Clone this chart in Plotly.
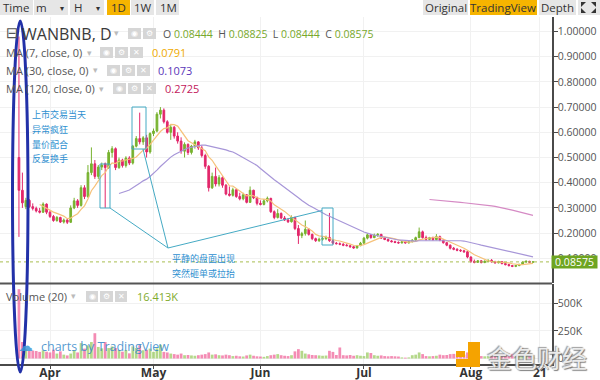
import pandas as pd
import plotly.graph_objects as go

# ---------------- data ----------------
start_date = "2018-03-23"
opens = [0.50, 0.37, 0.305, 0.33, 0.305, 0.298, 0.288, 0.283, 0.315, 0.283,
         0.266, 0.25, 0.262, 0.244, 0.252, 0.243, 0.30, 0.328, 0.31, 0.38,
         0.345, 0.44, 0.475, 0.425, 0.462, 0.475, 0.46, 0.52, 0.535, 0.46,
         0.49, 0.468, 0.498, 0.478, 0.545, 0.575, 0.562, 0.578, 0.522, 0.595,
         0.605, 0.672, 0.688, 0.642, 0.60, 0.62, 0.585, 0.565, 0.525, 0.552,
         0.52, 0.545, 0.562, 0.538, 0.508, 0.465, 0.38, 0.425, 0.395, 0.42,
         0.39, 0.355, 0.35, 0.372, 0.345, 0.336, 0.352, 0.322, 0.37, 0.34,
         0.318, 0.314, 0.328, 0.338, 0.285, 0.262, 0.278, 0.26, 0.252, 0.245,
         0.262, 0.218, 0.19, 0.198, 0.215, 0.195, 0.178, 0.17, 0.176, 0.178,
         0.183, 0.17, 0.16, 0.158, 0.156, 0.152, 0.15, 0.146, 0.141, 0.15,
         0.16, 0.18, 0.193, 0.182, 0.192, 0.195, 0.18, 0.175, 0.169, 0.166,
         0.163, 0.161, 0.166, 0.161, 0.166, 0.172, 0.182, 0.205, 0.182, 0.175,
         0.182, 0.174, 0.186, 0.172, 0.162, 0.152, 0.14, 0.136, 0.132, 0.13,
         0.126, 0.105, 0.088, 0.084, 0.09, 0.083, 0.088, 0.092, 0.086, 0.082,
         0.087, 0.079, 0.075, 0.071, 0.068, 0.071, 0.076, 0.085, 0.088, 0.08444]
highs = [0.98, 0.44, 0.34, 0.335, 0.318, 0.305, 0.30, 0.322, 0.318, 0.29,
         0.272, 0.268, 0.265, 0.258, 0.256, 0.31, 0.34, 0.335, 0.39, 0.39,
         0.47, 0.54, 0.49, 0.47, 0.48, 0.48, 0.53, 0.545, 0.54, 0.50,
         0.495, 0.505, 0.505, 0.55, 0.585, 0.678, 0.585, 0.59, 0.60, 0.615,
         0.68, 0.70, 0.695, 0.648, 0.63, 0.625, 0.60, 0.58, 0.56, 0.556,
         0.55, 0.57, 0.565, 0.548, 0.515, 0.47, 0.44, 0.46, 0.43, 0.425,
         0.395, 0.385, 0.38, 0.375, 0.36, 0.36, 0.355, 0.385, 0.372, 0.345,
         0.33, 0.335, 0.345, 0.34, 0.29, 0.295, 0.282, 0.268, 0.26, 0.27,
         0.265, 0.232, 0.205, 0.25, 0.22, 0.198, 0.182, 0.182, 0.185, 0.19,
         0.28, 0.175, 0.165, 0.163, 0.16, 0.158, 0.153, 0.15, 0.153, 0.165,
         0.185, 0.20, 0.196, 0.198, 0.20, 0.197, 0.184, 0.178, 0.173, 0.17,
         0.167, 0.168, 0.168, 0.169, 0.176, 0.186, 0.222, 0.21, 0.19, 0.185,
         0.186, 0.196, 0.19, 0.175, 0.165, 0.155, 0.145, 0.14, 0.136, 0.134,
         0.13, 0.108, 0.095, 0.093, 0.092, 0.092, 0.095, 0.097, 0.09, 0.09,
         0.088, 0.082, 0.078, 0.074, 0.073, 0.078, 0.088, 0.092, 0.09, 0.08825]
lows = [0.185, 0.30, 0.295, 0.30, 0.29, 0.282, 0.278, 0.28, 0.275, 0.26,
        0.245, 0.245, 0.24, 0.238, 0.236, 0.24, 0.295, 0.30, 0.305, 0.335,
        0.34, 0.43, 0.415, 0.415, 0.45, 0.30, 0.455, 0.50, 0.45, 0.455,
        0.46, 0.46, 0.47, 0.472, 0.54, 0.552, 0.55, 0.50, 0.515, 0.585,
        0.60, 0.655, 0.635, 0.595, 0.57, 0.575, 0.555, 0.515, 0.50, 0.51,
        0.512, 0.535, 0.53, 0.50, 0.455, 0.365, 0.375, 0.385, 0.385, 0.38,
        0.35, 0.345, 0.345, 0.34, 0.33, 0.33, 0.318, 0.32, 0.335, 0.31,
        0.31, 0.31, 0.322, 0.28, 0.255, 0.258, 0.255, 0.248, 0.24, 0.242,
        0.212, 0.157, 0.18, 0.19, 0.19, 0.172, 0.165, 0.165, 0.17, 0.172,
        0.165, 0.155, 0.155, 0.152, 0.148, 0.148, 0.142, 0.138, 0.139, 0.148,
        0.158, 0.175, 0.178, 0.18, 0.185, 0.178, 0.172, 0.166, 0.163, 0.16,
        0.158, 0.159, 0.158, 0.159, 0.163, 0.17, 0.18, 0.178, 0.17, 0.172,
        0.17, 0.172, 0.168, 0.158, 0.148, 0.135, 0.132, 0.128, 0.125, 0.122,
        0.10, 0.082, 0.08, 0.082, 0.08, 0.081, 0.085, 0.083, 0.08, 0.08,
        0.076, 0.072, 0.068, 0.065, 0.065, 0.069, 0.074, 0.082, 0.082, 0.08444]
closes = [0.37, 0.32, 0.33, 0.305, 0.298, 0.288, 0.283, 0.315, 0.283, 0.266,
          0.25, 0.262, 0.244, 0.252, 0.243, 0.30, 0.328, 0.31, 0.38, 0.345,
          0.44, 0.475, 0.425, 0.462, 0.47, 0.46, 0.52, 0.535, 0.46, 0.49,
          0.468, 0.498, 0.478, 0.545, 0.575, 0.562, 0.578, 0.522, 0.595, 0.605,
          0.672, 0.688, 0.642, 0.60, 0.62, 0.585, 0.565, 0.525, 0.552, 0.52,
          0.545, 0.562, 0.538, 0.508, 0.465, 0.38, 0.425, 0.395, 0.42, 0.39,
          0.355, 0.35, 0.372, 0.345, 0.336, 0.352, 0.322, 0.37, 0.34, 0.318,
          0.314, 0.328, 0.338, 0.285, 0.262, 0.278, 0.26, 0.252, 0.245, 0.262,
          0.218, 0.19, 0.198, 0.215, 0.195, 0.178, 0.17, 0.176, 0.178, 0.183,
          0.17, 0.16, 0.158, 0.156, 0.152, 0.15, 0.146, 0.141, 0.15, 0.16,
          0.18, 0.193, 0.182, 0.192, 0.195, 0.18, 0.175, 0.169, 0.166, 0.163,
          0.161, 0.166, 0.161, 0.166, 0.172, 0.182, 0.205, 0.182, 0.175, 0.182,
          0.174, 0.186, 0.172, 0.162, 0.152, 0.14, 0.136, 0.132, 0.13, 0.126,
          0.105, 0.088, 0.084, 0.09, 0.083, 0.088, 0.092, 0.086, 0.082, 0.087,
          0.079, 0.075, 0.071, 0.068, 0.071, 0.076, 0.085, 0.088, 0.0844, 0.08575]
volumes_k = [630, 150, 85, 70, 72, 68, 60, 75, 62, 55,
             80, 45, 65, 35, 28, 45, 75, 55, 140, 90,
             120, 150, 230, 105, 92, 150, 95, 110, 95, 77,
             62, 77, 47, 110, 95, 120, 75, 80, 90, 60,
             92, 125, 60, 55, 45, 40, 35, 45, 30, 32,
             28, 25, 30, 35, 40, 55, 35, 38, 30, 28,
             35, 30, 22, 25, 20, 18, 28, 35, 25, 20,
             18, 15, 22, 30, 35, 40, 30, 25, 22, 30,
             65, 85, 70, 45, 38, 32, 30, 28, 25, 27,
             70, 60, 32, 100, 30, 28, 32, 25, 30, 25,
             22, 55, 50, 30, 25, 28, 22, 20, 22, 20,
             18, 10, 8, 10, 30, 35, 55, 40, 22, 20,
             22, 25, 35, 30, 32, 40, 42, 40, 45, 35,
             55, 60, 45, 25, 22, 20, 22, 28, 38, 30,
             40, 35, 38, 42, 30, 25, 35, 30, 22, 16.4]
ma_periods = [7, 30, 120]
ma_legend_values = ["0.0791", "0.1073", "0.2725"]
price_ticks = [0.1, 0.2, 0.3, 0.4, 0.5, 0.6, 0.7, 0.8, 0.9, 1.0]
vol_ticks = [0, 250000, 500000]
vol_tick_labels = ["0", "250K", "500K"]
month_ticks = ["2018-04-01", "2018-05-01", "2018-06-01", "2018-07-01", "2018-08-01", "2018-08-21"]
month_labels = ["Apr", "May", "Jun", "Jul", "Aug", "21"]
ohlc_last = ["0.08444", "0.08825", "0.08444", "0.08575"]
last_close = closes[-1]
vol_legend_value = "16.413K"

# ---------------- helpers ----------------
W, H = 600, 380
def X(px): return px / W
def Y(py): return 1 - py / H

FONT = "Open Sans"
CJK = "Noto Sans CJK SC"
UP, DN = "#77b22f", "#e2276b"
GRID = "#f1f1f1"
AX = "#4a4a4a"

dates = pd.date_range(start_date, periods=len(closes), freq="D")
cs = pd.Series(closes, index=dates)
mas = [cs.rolling(p).mean() for p in ma_periods]
ma_colors = ["#f6c27a", "#a796d8", "#d58ac4"]

apr1 = pd.Timestamp("2018-04-01")
px_per_day = 3.45
x0 = apr1 - pd.Timedelta(days=50 / px_per_day)
x1 = apr1 + pd.Timedelta(days=(552 - 50) / px_per_day)

fig = go.Figure()
fig.add_trace(go.Candlestick(
    x=dates, open=opens, high=highs, low=lows, close=closes,
    increasing=dict(line=dict(color=UP, width=1), fillcolor=UP),
    decreasing=dict(line=dict(color=DN, width=1), fillcolor=DN),
    whiskerwidth=0, xaxis="x", yaxis="y", showlegend=False, hoverinfo="skip"))
for s, c in zip(mas, ma_colors):
    fig.add_trace(go.Scatter(x=s.index, y=s.values, mode="lines",
                             line=dict(color=c, width=1.2), xaxis="x", yaxis="y",
                             hoverinfo="skip", showlegend=False))
vcol = ["rgba(130,190,60,0.6)" if c >= o else "rgba(236,64,130,0.6)" for o, c in zip(opens, closes)]
fig.add_trace(go.Bar(x=dates, y=[v * 1000 for v in volumes_k], marker=dict(color=vcol, line=dict(width=0)),
                     width=0.8 * 86400000, xaxis="x2", yaxis="y2", hoverinfo="skip", showlegend=False))

axis_font = dict(family=FONT, size=10.5, color="#555")
fig.update_layout(
    width=W, height=H, margin=dict(l=0, r=0, t=0, b=0, autoexpand=False),
    paper_bgcolor="white", plot_bgcolor="white", showlegend=False,
    xaxis=dict(domain=[0, X(552)], range=[x0, x1], anchor="y", showticklabels=False,
               tickvals=month_ticks, showgrid=True, gridcolor=GRID, zeroline=False,
               rangeslider=dict(visible=False), ticks="", automargin=False),
    xaxis2=dict(domain=[0, X(552)], range=[x0, x1], anchor="y2", tickvals=month_ticks,
                ticktext=month_labels, showgrid=True, gridcolor=GRID, zeroline=False,
                showline=True, linecolor=AX, linewidth=1.5, ticks="outside", ticklen=3,
                tickcolor=AX, automargin=False, ticklabelstandoff=-6,
                tickfont=dict(family=FONT, size=12, color="#333", weight="bold")),
    yaxis=dict(domain=[Y(283), Y(17)], range=[0.002, 0.002 + 266 / 252], side="right",
               anchor="x", tickvals=price_ticks, tickformat=".5f", showgrid=True,
               gridcolor=GRID, zeroline=False, showline=True, linecolor=AX, linewidth=1.5,
               ticks="outside", ticklen=4, tickcolor=AX, tickfont=axis_font,
               automargin=False, ticklabelstandoff=-2),
    yaxis2=dict(domain=[Y(364), Y(284)], range=[-50000, 677000], side="right",
                anchor="x2", tickvals=vol_ticks, ticktext=vol_tick_labels, showgrid=True,
                gridcolor=GRID, zeroline=False, showline=True, linecolor=AX, linewidth=1.5,
                ticks="outside", ticklen=4, tickcolor=AX, tickfont=axis_font,
                automargin=False, ticklabelstandoff=-2),
    bargap=0.1,
)

shapes = []
anns = []

def rect(x_a, y_a, x_b, y_b, fill=None, line=None, lw=1, layer="above"):
    shapes.append(dict(type="rect", xref="paper", yref="paper", x0=X(x_a), x1=X(x_b),
                       y0=Y(y_b), y1=Y(y_a), fillcolor=fill or "rgba(0,0,0,0)",
                       line=dict(color=line or "rgba(0,0,0,0)", width=lw if line else 0), layer=layer))

def seg(xa, ya, xb, yb, color, lw=1, dash=None):
    shapes.append(dict(type="line", xref="paper", yref="paper", x0=X(xa), y0=Y(ya), x1=X(xb), y1=Y(yb),
                       line=dict(color=color, width=lw, dash=dash), layer="above"))

def text(t, x, y, size=11, color="#444", anchor="left", family=FONT, **kw):
    anns.append(dict(text=t, x=X(x), y=Y(y), xref="paper", yref="paper", showarrow=False,
                     xanchor=anchor, yanchor="middle", font=dict(family=family, size=size, color=color), **kw))

# panel separator
seg(0, 283.5, 552, 283.5, "#555", 2)

# last price dotted line
shapes.append(dict(type="line", xref="paper", yref="y", x0=0, x1=X(552), y0=last_close, y1=last_close,
                   line=dict(color="#a9bd4f", width=1, dash="dot"), layer="above"))
anns.append(dict(text=f"{last_close:.5f}", x=X(574.5), y=last_close, xref="paper", yref="y",
                 showarrow=False, xanchor="center", yanchor="middle", bgcolor="#6ea521",
                 width=45, height=12, borderpad=0, font=dict(family=FONT, size=10.5, color="white")))

# toolbar
GREYB, ORNG = "#e6e6e6", "#f6b400"
for lbl, a, b, col, cx in [("Time", 0, 33, GREYB, 16), ("m", 34, 68, GREYB, 41.5), ("H", 70, 104, GREYB, 77.5),
                           ("1D", 107, 130, ORNG, 118.5), ("1W", 131, 154, GREYB, 142.5), ("1M", 156, 179, GREYB, 168),
                           ("Original", 423, 468, GREYB, 446), ("TradingView", 470, 537, ORNG, 503.5),
                           ("Depth", 539, 576, GREYB, 557)]:
    rect(a, 0, b, 15, fill=col)
    text(lbl, cx, 7.5, 11.5, "#333", "center")
text("▾", 62, 7.5, 8, "#333", "center")
text("▾", 98, 7.5, 8, "#333", "center")
rect(578, 0, 600, 15, fill=GREYB)
for p in ["M {a} {b} L {c} {b} L {a} {d} Z".format(a=X(581), b=Y(2), c=X(586), d=Y(7)),
          "M {a} {b} L {c} {b} L {a} {d} Z".format(a=X(596), b=Y(2), c=X(591), d=Y(7)),
          "M {a} {b} L {c} {b} L {a} {d} Z".format(a=X(581), b=Y(13), c=X(586), d=Y(8)),
          "M {a} {b} L {c} {b} L {a} {d} Z".format(a=X(596), b=Y(13), c=X(591), d=Y(8))]:
    shapes.append(dict(type="path", xref="paper", yref="paper", path=p, fillcolor="#333",
                       line=dict(width=0), layer="above"))

# legend rows
def icons(xs, y0, y1):
    glyphs = ["◉", "⚙", "✕"]
    for k, (a, b) in enumerate(xs):
        rect(a, y0, b, y1, fill="#d6d6d6")
        text(glyphs[k], (a + b) / 2, (y0 + y1) / 2, 8, "white", "center", family="DejaVu Sans")

text("⊟", 4, 33, 15, "#555", family="DejaVu Sans")
text("WANBNB, D", 20, 33.5, 16, "#3a3a3a")
text("▾", 116, 33, 9, "#bbb", "center", family="DejaVu Sans")
icons([(128, 141), (143, 156)], 28, 39)
g = "#78a82b"
text("O <span style='color:%s'>%s</span>  H <span style='color:%s'>%s</span>  L <span style='color:%s'>%s</span>  C <span style='color:%s'>%s</span>"
     % (g, ohlc_last[0], g, ohlc_last[1], g, ohlc_last[2], g, ohlc_last[3]), 161, 33.5, 10.5, "#555")

ma_rows = [(52.5, 89, [(100, 113), (115, 128), (130, 143)], 150, "#efaa00"),
           (70.5, 95, [(107, 120), (122, 135), (137, 150)], 156, "#5a36b8"),
           (88.5, 101, [(113, 126), (128, 141), (143, 156)], 163, "#c2185b")]
for (yy, dx, ic, vx, vc), p, v in zip(ma_rows, ma_periods, ma_legend_values):
    text(f"MA ({p}, close, 0)", 4, yy, 11, "#555")
    text("▾", dx, yy, 9, "#bbb", "center", family="DejaVu Sans")
    icons(ic, yy - 5.5, yy + 5.5)
    text(v, vx, yy, 11, vc)

text("Volume (20)", 4, 296, 11, "#555")
text("▾", 73, 296, 9, "#bbb", "center", family="DejaVu Sans")
icons([(86, 98), (100, 113), (115, 127)], 291, 302)
text(vol_legend_value, 135, 296, 11, "#7fab2e")

# TradingView watermark
text("☁", 16, 346, 15, "rgba(60,150,215,0.85)", family="DejaVu Sans")
text("charts by TradingView", 39, 346, 12.5, "rgba(50,135,200,0.85)")

# annotation boxes & lines
TEAL = "#45aac4"
rect(100, 164, 110, 208, line=TEAL, lw=1)
rect(132, 107, 146, 149, line=TEAL, lw=1)
rect(322, 208, 333, 245, line=TEAL, lw=1)
seg(168, 248, 110, 208, TEAL)
seg(168, 248, 143, 149, TEAL)
seg(168, 248, 322, 210.5, TEAL)

BLUE_T = "#2e8fd0"
for k, t in enumerate(["上市交易当天", "异常疯狂", "量价配合", "反复换手"]):
    text(t, 30, 115 + 14.5 * k, 9, BLUE_T, family=CJK)
text("平静的盘面出现", 170, 258.5, 9, BLUE_T, family=CJK)
text("突然砸单或拉抬", 170, 273.5, 9, BLUE_T, family=CJK)

# blue ellipse
shapes.append(dict(type="circle", xref="paper", yref="paper", x0=X(12.5), x1=X(28), y0=Y(372), y1=Y(21),
                   line=dict(color="#2231a8", width=3), layer="above"))

# 金色财经 watermark
OR = "#f5a300"
rect(468, 342, 480, 367, fill=OR)
rect(456, 351, 465, 357, fill=OR)
rect(456, 359, 480, 367, fill=OR)
anns.append(dict(text="金色财经", x=X(537), y=Y(357), xref="paper", yref="paper", showarrow=False,
                 xanchor="center", yanchor="middle",
                 font=dict(family=CJK, size=25, color="rgba(240,240,240,0.95)",
                           shadow="1px 1px 1px #777, -1px -1px 1px #999")))

fig.update_layout(shapes=shapes, annotations=anns)
fig.write_html("out.html", config={"displayModeBar": False},
               post_script="document.body.style.margin='0';document.body.style.overflow='hidden';")
